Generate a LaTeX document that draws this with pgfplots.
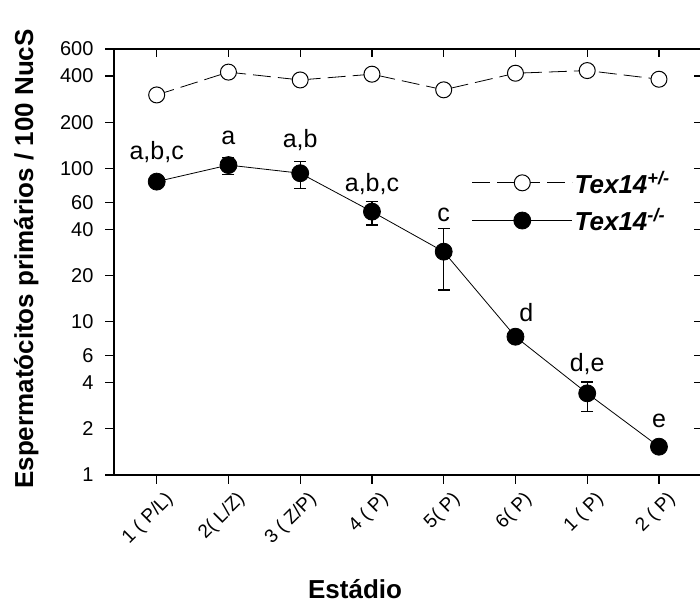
\documentclass[border=0pt]{standalone}
\usepackage{fontspec}
\setmainfont{Liberation Sans}
\usepackage{pgfplots}
\pgfplotsset{compat=1.18}
\usepackage{pgfplotstable}

\pgfplotstableread{
x y
0 301
1 424
2 377
3 411
4 325
5 417
6 434
7 381
}\hetero

\pgfplotstableread{
x y ep em
0 81.9 0 0
1 105 12 14
2 92.9 17.7 18.7
3 52.2 8.4 9.5
4 28.6 12.1 12.5
5 7.98 0 0
6 3.41 0.63 0.83
7 1.53 0 0
}\homo

\begin{document}
\begin{tikzpicture}
\useasboundingbox (0pt,0pt) rectangle (700pt,603pt);
\clip (0pt,0pt) rectangle (700pt,603pt);
\begin{axis}[
  at={(114pt,128pt)}, anchor=south west,
  scale only axis, width=588pt, height=426pt,
  xmin=-0.595, xmax=7.6,
  ymode=log, ymin=1, ymax=600,
  xtick={0,1,2,3,4,5,6,7},
  xticklabels={1 ( P/L),2( L/Z),3 ( Z/P),4 ( P),5( P),6( P),1 ( P),2 ( P)},
  ytick={1,2,4,6,10,20,40,60,100,200,400,600},
  yticklabels={1,2,4,6,10,20,40,60,100,200,400,600},
  yminorticks=false, xminorticks=false,
  xtick pos=left, ytick pos=left,
  tick align=outside, major tick length=9pt,
  tick style={line width=1.2pt, black},
  axis line style={line width=1.6pt},
  /pgf/number format/assume math mode=true,
  yticklabel style={font=\fontsize{20}{20}\selectfont, xshift=-8pt},
  xticklabel style={font=\fontsize{19}{19}\selectfont, rotate=45, anchor=north east, xshift=4pt, yshift=-6pt},
  xlabel={\textbf{Estádio}},
  ylabel={\textbf{Espermatócitos primários / 100 NucS}},
  label style={font=\fontsize{26}{26}\selectfont},
  xlabel style={at={(axis description cs:0.41,-0.2900)}, anchor=base},
  ylabel style={at={(axis description cs:-0.1224,0.507)}, anchor=south},
  legend style={at={(axis description cs:0.6083,0.6416)}, anchor=west,
    draw=none, fill=none, inner sep=0pt, row sep=10pt,
    font=\fontsize{26}{26}\selectfont\bfseries\itshape,
    nodes={inner sep=2pt}},
  legend cell align=left,
  legend image code/.code={\draw[mark repeat=2,mark phase=2,#1] plot coordinates {(0pt,0pt) (50pt,0pt) (100pt,0pt)};},
  clip=false,
]
\addplot[black, line width=0.8pt, dash pattern=on 18pt off 7pt,
  mark=*, mark size=8pt, mark options={solid, fill=white, draw=black, line width=1pt}]
  table[x=x, y=y] {\hetero};
\addlegendentry{Tex14\textsuperscript{+/-}}
\addplot[black, line width=0.8pt,
  mark=*, mark size=8.5pt, mark options={solid, fill=black},
  error bars/.cd, y dir=both, y explicit,
  error bar style={line width=1.2pt},
  error mark options={rotate=90, mark size=6pt, line width=1.2pt}]
  table[x=x, y=y, y error plus=ep, y error minus=em] {\homo};
\addlegendentry{Tex14\textsuperscript{-/-}}
\begin{scope}[font=\fontsize{25}{25}\selectfont]
\node[anchor=base] at (axis cs:0,113.5) {a,b,c};
\node[anchor=base] at (axis cs:1,142) {a};
\node[anchor=base] at (axis cs:2,136) {a,b};
\node[anchor=base] at (axis cs:3,70.5) {a,b,c};
\node[anchor=base] at (axis cs:4,44.9) {c};
\node[anchor=base] at (axis cs:5.15,10.0) {d};
\node[anchor=base] at (axis cs:6,4.72) {d,e};
\node[anchor=base] at (axis cs:7,2.03) {e};
\end{scope}
\end{axis}
\begin{axis}[
  at={(114pt,128pt)}, anchor=south west,
  scale only axis, width=588pt, height=426pt,
  xmin=-0.595, xmax=7.6,
  ymode=log, ymin=1, ymax=600,
  xtick={0,1,2,3,4,5,6,7}, xticklabels={},
  ytick={1,2,4,6,10,20,40,60,100,200,400,600}, yticklabels={},
  yminorticks=false, xminorticks=false,
  xtick pos=right, ytick pos=right,
  tick align=inside, major tick length=8pt,
  tick style={line width=1.2pt, black},
  axis line style={line width=1.6pt},
]
\end{axis}
\end{tikzpicture}
\end{document}
